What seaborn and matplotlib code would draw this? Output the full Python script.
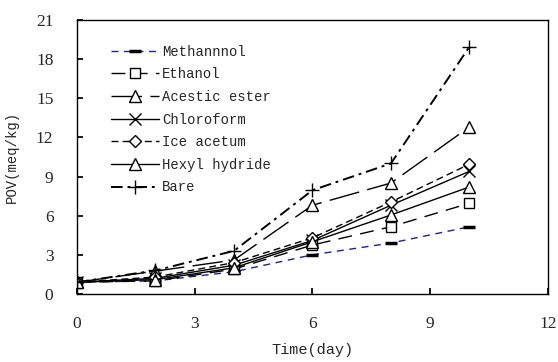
import matplotlib
matplotlib.use("Agg")
import matplotlib.pyplot as plt
import seaborn as sns
import pandas as pd

days = [0, 2, 4, 6, 8, 10]
methannol = [0.9, 1.0, 1.7, 3.0, 3.9, 5.15]
ethanol = [0.9, 1.0, 1.9, 3.75, 5.15, 6.95]
acestic_ester = [0.9, 1.75, 2.6, 6.8, 8.5, 12.8]
chloroform = [0.9, 1.2, 2.2, 4.1, 6.8, 9.4]
ice_acetum = [0.9, 1.3, 2.4, 4.3, 7.05, 9.95]
hexyl_hydride = [0.9, 1.1, 2.0, 4.0, 6.05, 8.2]
bare = [0.9, 1.8, 3.3, 7.95, 10.0, 18.95]

series = [
    ("Methannnol", methannol, "#1f1f9a", (0, (5, 4)), 1.0, "_", 9),
    ("Ethanol", ethanol, "black", (0, (10, 6)), 1.0, "s", 7),
    ("Acestic ester", acestic_ester, "black", (0, (22, 6)), 1.0, "^", 9),
    ("Chloroform", chloroform, "black", "-", 1.0, "x", 9),
    ("Ice acetum", ice_acetum, "black", (0, (5, 3)), 1.0, "D", 6.5),
    ("Hexyl hydride", hexyl_hydride, "black", "-", 1.0, "^", 9),
    ("Bare", bare, "black", (0, (6, 2.5, 1.5, 2.5)), 1.4, "+", 10),
]

sns.set_theme(style="ticks")
plt.rcParams["font.family"] = ["Liberation Serif", "DejaVu Serif"]
mono = ["Liberation Mono", "DejaVu Sans Mono"]

fig, ax = plt.subplots(figsize=(5.58, 3.62), dpi=100)
fig.subplots_adjust(left=0.138, right=0.982, top=0.945, bottom=0.188)

for name, vals, color, ls, lw, mk, ms in series:
    df = pd.DataFrame({"day": days, "pov": vals})
    sns.lineplot(data=df, x="day", y="pov", ax=ax, label=name, color=color,
                 linestyle=ls, linewidth=lw, marker=mk, markersize=ms,
                 markerfacecolor="white" if mk not in ("x", "+", "_") else "black",
                 markeredgecolor="black",
                 markeredgewidth=2.5 if mk == "_" else 1.0)

ax.set_xlim(0, 12)
ax.set_ylim(0, 21)
ax.set_xticks([0, 3, 6, 9, 12])
ax.set_yticks(range(0, 22, 3))
ax.tick_params(axis="x", direction="in", labelsize=12.5, length=4, color="black", pad=16)
ax.tick_params(axis="y", direction="in", labelsize=12.5, length=4, color="black", pad=17)
for sp in ax.spines.values():
    sp.set_visible(True)
    sp.set_color("black")
    sp.set_linewidth(1.0)
ax.set_xlabel("Time(day)", fontsize=11, family=mono, labelpad=8)
ax.set_ylabel("POV(meq/kg)", fontsize=10, family=mono, labelpad=12)

ax.legend(loc="upper left", bbox_to_anchor=(0.045, 0.955), frameon=False,
          prop={"family": mono, "size": 10}, handlelength=3.5,
          labelspacing=0.62, handletextpad=0.2)

fig.savefig("out.png", dpi=100)
